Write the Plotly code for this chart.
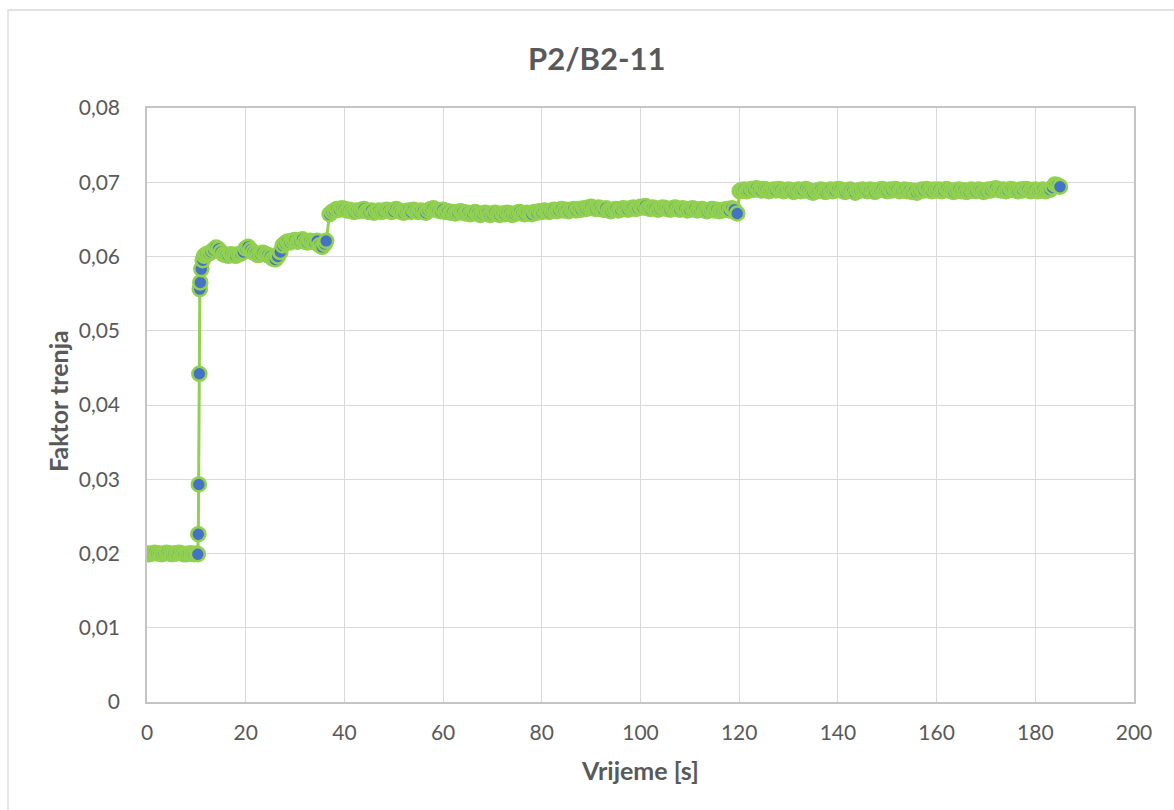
import plotly.graph_objects as go

# --- data: friction factor vs. time (logger step 0.5 s) -------------------
DT = 0.5

def sample_times(t0, t1):
    n = int(round((t1 - t0) / DT)) + 1
    return [round(t0 + DT * i, 2) for i in range(n)]

# 0 - 10 s: run-in at low friction
f_start = [0.0200, 0.0199, 0.0200, 0.0201, 0.0200, 0.0200, 0.0199, 0.0200, 0.0201, 0.0200,
           0.0199, 0.0200, 0.0200, 0.0201, 0.0200, 0.0199, 0.0199, 0.0200, 0.0200, 0.0199,
           0.0200]
t_start = sample_times(0.0, 10.0)

# load step
t_rise = [10.3, 10.4, 10.5, 10.6, 10.7, 10.8, 11.0, 11.3, 11.6]
f_rise = [0.0199, 0.0226, 0.0293, 0.0442, 0.0556, 0.0565, 0.0583, 0.0595, 0.0601]

# 12 - 36 s
f_step1 = [0.0603, 0.0604, 0.0606, 0.0609, 0.0612, 0.0610, 0.0606, 0.0603, 0.0602, 0.0601,
           0.0603, 0.0602, 0.0601, 0.0603, 0.0604, 0.0606, 0.0611, 0.0613, 0.0609, 0.0606,
           0.0604, 0.0602, 0.0603, 0.0605, 0.0603, 0.0602, 0.0600, 0.0597, 0.0596, 0.0600,
           0.0606, 0.0615, 0.0618, 0.0620, 0.0619, 0.0621, 0.0622, 0.0620, 0.0621, 0.0623,
           0.0620, 0.0619, 0.0621, 0.0620, 0.0619, 0.0621, 0.0615, 0.0613, 0.0617,
           0.0621]
t_step1 = sample_times(12.0, 36.0) + [36.3]

# 37 - 119.6 s
f_step2 = [0.0657, 0.0660, 0.0662, 0.0664, 0.0663, 0.0665, 0.0664, 0.0662, 0.0663, 0.0661,
           0.0660, 0.0662, 0.0661, 0.0663, 0.0664, 0.0661, 0.0660, 0.0662, 0.0659, 0.0661,
           0.0662, 0.0660, 0.0661, 0.0663, 0.0662, 0.0660, 0.0661, 0.0664, 0.0662, 0.0660,
           0.0659, 0.0661, 0.0662, 0.0660, 0.0663, 0.0661, 0.0660, 0.0662, 0.0661, 0.0659,
           0.0662, 0.0664, 0.0665, 0.0663, 0.0662, 0.0661, 0.0663, 0.0660, 0.0661, 0.0659,
           0.0660, 0.0658, 0.0659, 0.0661, 0.0660, 0.0658, 0.0659, 0.0657, 0.0658, 0.0660,
           0.0658, 0.0656, 0.0657, 0.0659, 0.0658, 0.0656, 0.0657, 0.0659, 0.0657, 0.0656,
           0.0658, 0.0657, 0.0659, 0.0658, 0.0656, 0.0657, 0.0659, 0.0660, 0.0658, 0.0657,
           0.0659, 0.0658, 0.0657, 0.0660, 0.0659, 0.0661, 0.0660, 0.0662, 0.0661, 0.0660,
           0.0662, 0.0663, 0.0661, 0.0662, 0.0664, 0.0662, 0.0663, 0.0661, 0.0663, 0.0664,
           0.0662, 0.0664, 0.0663, 0.0665, 0.0664, 0.0666, 0.0667, 0.0665, 0.0664, 0.0666,
           0.0664, 0.0663, 0.0665, 0.0662, 0.0661, 0.0663, 0.0664, 0.0662, 0.0663, 0.0665,
           0.0664, 0.0663, 0.0665, 0.0666, 0.0664, 0.0665, 0.0667, 0.0666, 0.0668, 0.0665,
           0.0664, 0.0666, 0.0665, 0.0663, 0.0664, 0.0666, 0.0665, 0.0664, 0.0663, 0.0665,
           0.0666, 0.0664, 0.0663, 0.0665, 0.0664, 0.0662, 0.0663, 0.0665, 0.0664, 0.0662,
           0.0663, 0.0664, 0.0662, 0.0661, 0.0663, 0.0664, 0.0662, 0.0663, 0.0661, 0.0662,
           0.0663, 0.0664, 0.0662, 0.0665, 0.0663,
           0.0658]
t_step2 = sample_times(37.0, 119.0) + [119.6]

# 120 - 185 s
f_step3 = [0.0688,
           0.0689, 0.0690, 0.0688, 0.0689, 0.0691, 0.0690, 0.0692, 0.0690, 0.0689, 0.0691,
           0.0690, 0.0688, 0.0689, 0.0690, 0.0689, 0.0691, 0.0690, 0.0688, 0.0689, 0.0690,
           0.0689, 0.0687, 0.0689, 0.0690, 0.0688, 0.0689, 0.0691, 0.0689, 0.0687, 0.0686,
           0.0688, 0.0689, 0.0690, 0.0688, 0.0687, 0.0689, 0.0690, 0.0688, 0.0689, 0.0691,
           0.0690, 0.0688, 0.0687, 0.0689, 0.0690, 0.0688, 0.0686, 0.0688, 0.0689, 0.0690,
           0.0689, 0.0688, 0.0690, 0.0689, 0.0687, 0.0689, 0.0690, 0.0691, 0.0689, 0.0688,
           0.0690, 0.0689, 0.0691, 0.0690, 0.0688, 0.0689, 0.0690, 0.0688, 0.0689, 0.0687,
           0.0688, 0.0686, 0.0688, 0.0690, 0.0689, 0.0691, 0.0689, 0.0688, 0.0690, 0.0689,
           0.0690, 0.0688, 0.0689, 0.0691, 0.0689, 0.0688, 0.0687, 0.0689, 0.0690, 0.0688,
           0.0689, 0.0687, 0.0688, 0.0690, 0.0689, 0.0688, 0.0690, 0.0689, 0.0687, 0.0688,
           0.0690, 0.0689, 0.0691, 0.0692, 0.0690, 0.0689, 0.0690, 0.0688, 0.0689, 0.0691,
           0.0690, 0.0689, 0.0688, 0.0690, 0.0689, 0.0691, 0.0690, 0.0688, 0.0689, 0.0690,
           0.0688, 0.0689, 0.0690, 0.0688, 0.0689, 0.0690, 0.0693, 0.0697, 0.0696, 0.0694]
t_step3 = [120.1] + sample_times(120.5, 185.0)

time_s = t_start + t_rise + t_step1 + t_step2 + t_step3
friction = f_start + f_rise + f_step1 + f_step2 + f_step3
assert len(time_s) == len(friction)

x_ticks = [0, 20, 40, 60, 80, 100, 120, 140, 160, 180, 200]
y_ticks = [0, 0.01, 0.02, 0.03, 0.04, 0.05, 0.06, 0.07, 0.08]
y_tick_text = ["0", "0,01", "0,02", "0,03", "0,04", "0,05", "0,06", "0,07", "0,08"]

# --- style ----------------------------------------------------------------
FONT = "Lato, 'Open Sans', sans-serif"
TEXT = "#595959"
GRID = "#D9D9D9"
FRAME = "#C4C4C4"

fig = go.Figure(go.Scatter(
    x=time_s, y=friction, mode="lines+markers",
    line=dict(color="#92D050", width=3),
    marker=dict(size=14, color="#4472C4", line=dict(color="#92D050", width=2.6)),
    hoverinfo="x+y",
))

W, H = 1174, 810
L, R, T, B = 147, 40, 108, 108
pw, ph = W - L - R, H - T - B

def px(xp):
    return (xp - L) / pw

def py(yp):
    return (H - B - yp) / ph

fig.update_layout(
    width=W, height=H,
    margin=dict(l=L, r=R, t=T, b=B),
    paper_bgcolor="white", plot_bgcolor="white",
    showlegend=False,
    font=dict(family=FONT, color=TEXT, size=21),
    xaxis=dict(range=[0, 200], tickvals=x_ticks, ticktext=[str(v) for v in x_ticks],
               showgrid=True, gridcolor=GRID, gridwidth=1.3, zeroline=False,
               showline=True, linecolor=FRAME, linewidth=1.5, mirror=True,
               ticks="", ticklabelstandoff=11, tickfont=dict(size=21, color=TEXT)),
    yaxis=dict(range=[0, 0.08], tickvals=y_ticks, ticktext=y_tick_text,
               showgrid=True, gridcolor=GRID, gridwidth=1.3, zeroline=False,
               showline=True, linecolor=FRAME, linewidth=1.5, mirror=True,
               ticks="", ticklabelstandoff=21, tickfont=dict(size=21, color=TEXT)),
    shapes=[dict(type="rect", xref="paper", yref="paper",
                 x0=px(8), x1=px(1200), y0=py(840), y1=py(10),
                 line=dict(color=GRID, width=1.3), fillcolor="rgba(0,0,0,0)", layer="below")],
    annotations=[
        dict(text="<b>P2/B2-11</b>", xref="paper", yref="paper", x=px(597), y=py(58),
             xanchor="center", yanchor="middle", showarrow=False,
             font=dict(family=FONT, size=31, color=TEXT)),
        dict(text="<b>Vrijeme [s]</b>", xref="paper", yref="paper", x=px(640), y=py(770),
             xanchor="center", yanchor="middle", showarrow=False,
             font=dict(family=FONT, size=25, color=TEXT)),
        dict(text="<b>Faktor trenja</b>", xref="paper", yref="paper", x=px(58), y=py(401),
             xanchor="center", yanchor="middle", showarrow=False, textangle=-90,
             font=dict(family=FONT, size=25, color=TEXT)),
    ],
)

fig.write_html("out.html")
